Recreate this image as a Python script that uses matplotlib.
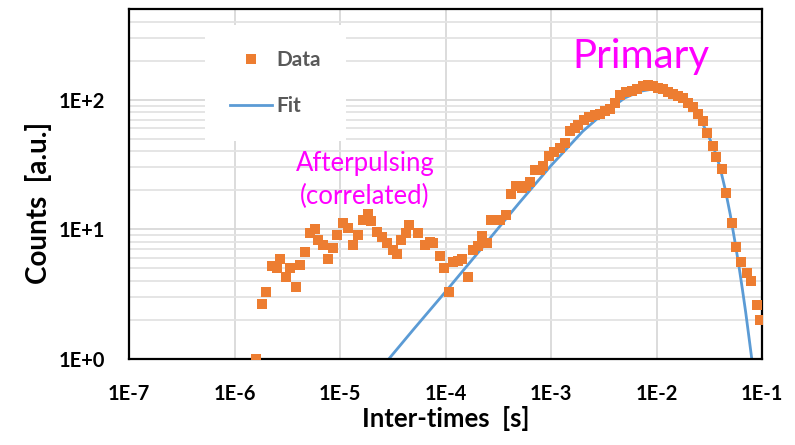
import matplotlib
matplotlib.use("Agg")
import matplotlib.pyplot as plt
from matplotlib.ticker import LogLocator, NullFormatter

plt.rcParams['font.family'] = ['Lato', 'DejaVu Sans']

# Measured histogram of inter-times (log bins)
data_t = [1.60e-6, 1.81e-6, 1.98e-6, 2.28e-6, 2.51e-6, 2.70e-6, 3.08e-6, 3.36e-6,
          3.80e-6, 4.18e-6, 4.66e-6, 5.20e-6, 5.79e-6, 6.15e-6, 6.95e-6, 7.64e-6,
          8.63e-6, 9.42e-6, 1.07e-5, 1.20e-5, 1.32e-5, 1.47e-5, 1.64e-5, 1.83e-5,
          1.97e-5, 2.23e-5, 2.48e-5, 2.77e-5, 3.16e-5, 3.44e-5, 3.76e-5, 4.23e-5,
          4.54e-5, 5.52e-5, 6.40e-5, 7.13e-5, 7.66e-5, 8.87e-5, 9.68e-5, 1.08e-4,
          1.19e-4, 1.32e-4, 1.44e-4, 1.62e-4, 1.81e-4, 2.02e-4, 2.20e-4, 2.46e-4,
          2.68e-4, 2.96e-4, 3.29e-4, 3.74e-4, 4.18e-4, 4.66e-4, 5.27e-4, 5.79e-4,
          6.32e-4, 7.05e-4, 7.87e-4, 8.45e-4, 9.64e-4, 1.07e-3, 1.22e-3, 1.36e-3,
          1.51e-3, 1.69e-3, 1.82e-3, 2.06e-3, 2.31e-3, 2.61e-3, 2.91e-3, 3.25e-3,
          3.62e-3, 4.05e-3, 4.51e-3, 5.14e-3, 5.82e-3, 6.49e-3, 7.40e-3, 8.36e-3,
          9.33e-3, 1.04e-2, 1.16e-2, 1.29e-2, 1.44e-2, 1.61e-2, 1.79e-2, 2.00e-2,
          2.23e-2, 2.49e-2, 2.78e-2, 2.99e-2, 3.41e-2, 3.66e-2, 4.15e-2, 4.56e-2,
          5.16e-2, 5.68e-2, 6.28e-2, 7.16e-2, 7.82e-2, 8.91e-2, 9.58e-2]
data_counts = [1.0, 2.64, 3.3, 5.2, 5.0, 5.9, 4.3, 5.0,
               3.6, 5.3, 6.7, 9.3, 10.0, 8.3, 7.6, 5.9,
               7.2, 9.1, 11.2, 10.2, 7.6, 9.1, 11.8, 13.1,
               11.5, 9.6, 8.7, 7.8, 6.9, 6.5, 8.3, 9.3,
               10.8, 9.3, 7.6, 8.0, 7.8, 6.2, 5.0, 3.3,
               5.6, 5.7, 5.9, 4.3, 6.9, 7.4, 8.9, 7.9,
               11.8, 11.7, 11.7, 12.8, 18.7, 21.4, 20.7, 21.5,
               23.1, 28.8, 28.8, 30.6, 36.5, 39.8, 42.4, 46.0,
               57.0, 60.0, 64.0, 70.0, 74.0, 76.0, 78.0, 81.0,
               84.0, 94.0, 109.0, 114.0, 117.0, 121.0, 127.0, 130.0,
               128.0, 123.0, 121.0, 115.0, 111.0, 107.0, 103.0, 95.0,
               88.0, 77.0, 68.0, 55.0, 44.0, 36.0, 29.0, 19.0,
               11.2, 7.3, 5.6, 4.6, 4.0, 2.6, 2.0]

# Fitted curve for the uncorrelated (primary) component
fit_t = [2.9e-5, 5e-5, 1e-4, 2e-4, 5e-4, 1e-3, 2e-3, 3e-3, 5e-3, 7e-3, 1e-2,
         1.5e-2, 2e-2, 2.5e-2, 3e-2, 3.5e-2, 4e-2, 4.5e-2, 5e-2, 5.5e-2, 6e-2,
         6.5e-2, 7e-2, 7.5e-2, 8e-2, 8.2e-2]
fit_counts = [1.0, 1.7, 3.3, 6.5, 16, 31, 57, 76, 103, 116, 122,
              114, 96, 76, 56, 42, 30, 20, 13, 8.3, 5.4,
              3.5, 2.3, 1.5, 1.0, 0.8]

x_ticks = [1e-7, 1e-6, 1e-5, 1e-4, 1e-3, 1e-2, 1e-1]
x_labels = ['1E-7', '1E-6', '1E-5', '1E-4', '1E-3', '1E-2', '1E-1']
y_ticks = [1, 10, 100]
y_labels = ['1E+0', '1E+1', '1E+2']

fig = plt.figure(figsize=(7.95, 4.45), dpi=100)
ax = fig.add_axes([0.1623, 0.1933, 0.7962, 0.7865])

ax.plot(data_t, data_counts, 's', color='#ED7D31', markersize=7.2,
        markeredgewidth=0, label='Data', zorder=3)
ax.plot(fit_t, fit_counts, '-', color='#5B9BD5', linewidth=2.0,
        label='Fit', zorder=2)

ax.set_xscale('log')
ax.set_yscale('log')
ax.set_xlim(1e-7, 1e-1)
ax.set_ylim(1, 500)

ax.set_xticks(x_ticks)
ax.set_xticklabels(x_labels)
ax.set_yticks(y_ticks)
ax.set_yticklabels(y_labels)
ax.xaxis.set_minor_formatter(NullFormatter())
ax.yaxis.set_minor_locator(LogLocator(base=10, subs=range(2, 10)))
ax.yaxis.set_minor_formatter(NullFormatter())
ax.tick_params(which='both', length=0)
ax.tick_params(axis='x', pad=18, labelsize=14.5)
ax.tick_params(axis='y', pad=17, labelsize=14.5)
for lab in ax.get_xticklabels() + ax.get_yticklabels():
    lab.set_fontweight('bold')

ax.grid(True, which='major', axis='both', color='#D9D9D9', linewidth=1.3)
ax.grid(True, which='minor', axis='y', color='#E3E3E3', linewidth=1.3)
ax.set_axisbelow(True)
for sp in ax.spines.values():
    sp.set_linewidth(1.6)
    sp.set_color('black')

ax.set_xlabel('Inter-times  [s]', fontsize=18.5, fontweight='bold')
ax.xaxis.set_label_coords(0.5, -0.135)
ax.set_ylabel('Counts  [a.u.]', fontsize=20, fontweight='bold')
ax.yaxis.set_label_coords(-0.122, 0.446)

leg = ax.legend(loc='upper left', bbox_to_anchor=(0.12, 0.954), frameon=True,
                fancybox=False, edgecolor='none', facecolor='white', framealpha=1,
                fontsize=15, handlelength=2.0, handletextpad=0.25,
                labelspacing=1.25, borderpad=1.2, borderaxespad=0)
for txt in leg.get_texts():
    txt.set_color('#595959')
    txt.set_fontweight('bold')

ax.text(0.0071, 215, 'Primary', color='#FF00FF', fontsize=29,
        ha='center', va='center')
ax.text(1.72e-5, 24, 'Afterpulsing\n(correlated)', color='#FF00FF', fontsize=18.5,
        ha='center', va='center', linespacing=1.35)

fig.savefig('out.png', dpi=100)
